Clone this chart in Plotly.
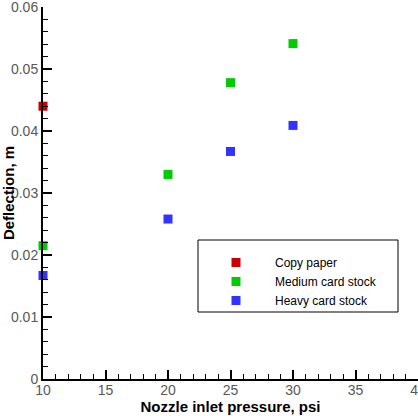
import plotly.graph_objects as go

series_names = ["Copy paper", "Medium card stock", "Heavy card stock"]
copy_x = [10]
copy_y = [0.0440]
medium_x = [10, 20, 25, 30]
medium_y = [0.0215, 0.0330, 0.0478, 0.0541]
heavy_x = [10, 20, 25, 30]
heavy_y = [0.0167, 0.0258, 0.0367, 0.0409]
colors = ["#cc0000", "#00cc00", "#3333ff"]

fig = go.Figure()
for name, xs, ys, c in zip(series_names, [copy_x, medium_x, heavy_x],
                           [copy_y, medium_y, heavy_y], colors):
    fig.add_trace(go.Scatter(x=xs, y=ys, mode="markers", name=name,
                             marker=dict(symbol="square", size=9, color=c,
                                         line=dict(width=0)),
                             cliponaxis=False))

axis_common = dict(showline=True, linecolor="black", linewidth=2,
                   ticks="inside", ticklen=9, tickwidth=2, tickcolor="black",
                   showgrid=False, zeroline=False, ticklabeloverflow="allow",
                   automargin=False,
                   tickfont=dict(family="Liberation Sans, Arial", size=14, color="#585858"),
                   mirror=False)

fig.update_xaxes(range=[10, 40.00001], tickvals=[10, 15, 20, 25, 30, 35, 40],
                 ticklabelstandoff=-3,
                 minor=dict(ticks="inside", ticklen=5, tickwidth=1, tickcolor="black", dtick=1, tick0=10),
                 title=dict(text="<b>Nozzle inlet pressure, psi</b>", standoff=0,
                            font=dict(family="Liberation Sans, Arial", size=15, color="black")),
                 **axis_common)
fig.update_yaxes(range=[0, 0.0600001], tickvals=[0, 0.01, 0.02, 0.03, 0.04, 0.05, 0.06],
                 ticktext=["0", "0.01", "0.02", "0.03", "0.04", "0.05", "0.06"],
                 minor=dict(ticks="inside", ticklen=5, tickwidth=1, tickcolor="black", dtick=0.002, tick0=0),
                 title=dict(text="<b>Deflection, m</b>", standoff=4,
                            font=dict(family="Liberation Sans, Arial", size=15, color="black")),
                 **axis_common)

fig.add_shape(type="rect", xref="paper", yref="paper",
              x0=(198 - 43) / 375, x1=(398 - 43) / 375,
              y0=(379 - 312) / 372, y1=(379 - 240) / 372,
              line=dict(color="black", width=1), fillcolor="rgba(0,0,0,0)")

fig.update_layout(
    width=418, height=416,
    margin=dict(l=43, r=0, t=7, b=37),
    plot_bgcolor="white", paper_bgcolor="white",
    showlegend=True,
    legend=dict(x=(197 - 43) / 375, y=(379 - 248) / 372, xanchor="left", yanchor="top",
                bgcolor="rgba(0,0,0,0)", borderwidth=0, itemwidth=68,
                tracegroupgap=0,
                font=dict(family="Liberation Sans, Arial", size=12, color="black")),
)

fig.write_html("out.html")
